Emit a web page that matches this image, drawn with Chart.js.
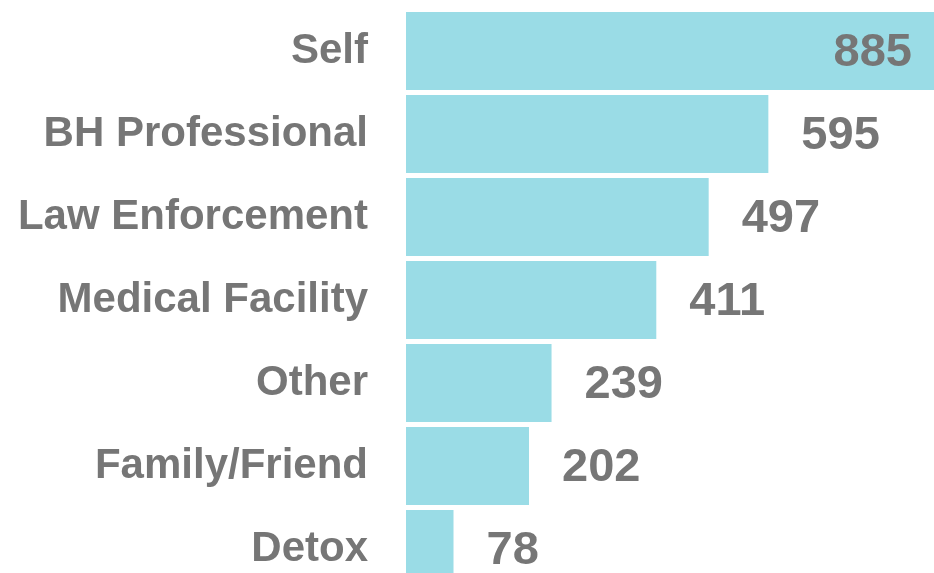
<!DOCTYPE html>
<html>
<head>
<meta charset="utf-8">
<script src="https://cdn.jsdelivr.net/npm/chart.js@4/dist/chart.umd.min.js"></script>
<style>
  html, body { margin: 0; padding: 0; background: #fff; overflow: hidden; }
</style>
</head>
<body>
<canvas id="referralChart" width="934" height="600"></canvas>
<script>
const categories = ['Self', 'BH Professional', 'Law Enforcement', 'Medical Facility', 'Other', 'Family/Friend', 'Detox'];
const referrals = [885, 595, 497, 411, 239, 202, 78];

const barColor = '#9adce6';
const textColor = '#767676';

// value labels at the end of each bar (inside when the bar runs off the chart)
const valueLabels = {
    id: 'valueLabels',
    afterDatasetsDraw(chart) {
        const ctx = chart.ctx;
        const area = chart.chartArea;
        const meta = chart.getDatasetMeta(0);
        ctx.save();
        ctx.font = 'bold 47px "Liberation Sans", Arial, sans-serif';
        ctx.fillStyle = textColor;
        ctx.textBaseline = 'middle';
        meta.data.forEach((bar, i) => {
            const txt = String(referrals[i]);
            if (bar.x >= area.right) {
                ctx.textAlign = 'right';
                ctx.fillText(txt, area.right - 22, bar.y + 2);
            } else {
                ctx.textAlign = 'left';
                ctx.fillText(txt, bar.x + 33, bar.y + 2);
            }
        });
        ctx.restore();
    }
};

new Chart(document.getElementById('referralChart'), {
    type: 'bar',
    data: {
        labels: categories,
        datasets: [{
            data: referrals,
            backgroundColor: barColor,
            borderWidth: 0,
            categoryPercentage: 1,
            barPercentage: 0.94
        }]
    },
    options: {
        indexAxis: 'y',
        responsive: false,
        animation: false,
        layout: { padding: { top: 9.5, bottom: 9.5, left: 0, right: 0 } },
        plugins: {
            legend: { display: false },
            tooltip: { enabled: false }
        },
        scales: {
            x: {
                display: false,
                min: 0,
                max: 867
            },
            y: {
                grid: { display: false, drawTicks: false },
                border: { display: false },
                ticks: {
                    color: textColor,
                    padding: 38,
                    font: { family: '"Liberation Sans", Arial, sans-serif', size: 42, weight: 'bold' }
                },
                afterFit(scale) {
                    scale.width = 406;
                    // tick padding would otherwise push the plot down
                    scale.paddingTop = 0;
                    scale.paddingBottom = 0;
                }
            }
        }
    },
    plugins: [valueLabels]
});
</script>
</body>
</html>
